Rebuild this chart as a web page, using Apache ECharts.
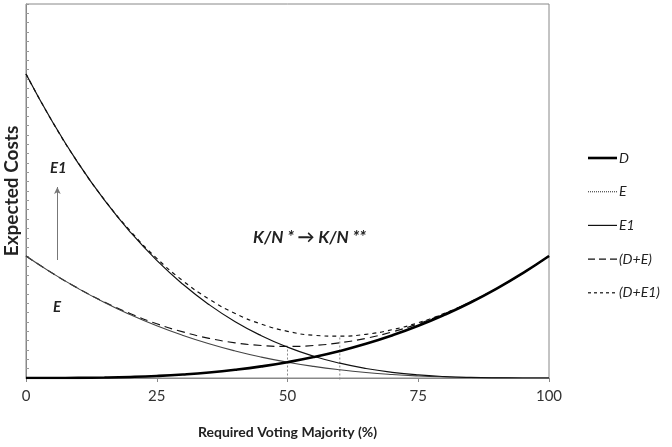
<!DOCTYPE html>
<html>
<head>
<meta charset="utf-8">
<script src="https://cdn.jsdelivr.net/npm/echarts@6/dist/echarts.min.js"></script>
<style>html,body{margin:0;padding:0;background:#fff}#c{width:672px;height:447px}</style>
</head>
<body>
<div id="c"></div>
<script>
// Required voting majority (%)
const majority = [0,5,10,15,20,25,30,35,40,45,50,55,60,65,70,75,80,85,90,95,100];
// Expected costs (arbitrary units)
const D  = [0,0.02,0.14,0.45,1.06,2.04,3.5,5.5,8.2,11.6,15.8,20.9,27.0,34.2,42.6,52.2,63.2,75.5,89.4,104.9,122];
const E  = [122,104.9,89.4,75.5,63.2,52.2,42.6,34.2,27.0,20.9,15.8,11.6,8.2,5.5,3.5,2.04,1.06,0.45,0.14,0.02,0];
const E1 = [304,256.7,214.7,177.8,145.6,117.6,93.7,73.4,56.3,42.3,30.9,21.8,14.8,9.5,5.7,3.1,1.5,0.58,0.15,0.02,0];
const xTicks = [0,25,50,75,100];
const seriesNames = ['D','E','E1','(D+E)','(D+E1)'];
const optimumDE = 50;   // K/N *
const optimumDE1 = 60;  // K/N **
const arrowFrom = [6,118], arrowTo = [6,191];

const DE  = D.map((v,i)=>+(v+E[i]).toFixed(2));
const DE1 = D.map((v,i)=>+(v+E1[i]).toFixed(2));
const pair = (arr)=>majority.map((x,i)=>[x,arr[i]]);
const idx50 = majority.indexOf(optimumDE), idx60 = majority.indexOf(optimumDE1);

const FONT = 'Lato, "Open Sans", sans-serif';
const styles = [
  {color:'#000',width:2.6,type:'solid'},
  {color:'#444',width:1.1,type:'solid'},
  {color:'#111',width:1.2,type:'solid'},
  {color:'#111',width:1.2,type:[8,5]},
  {color:'#111',width:1.2,type:[4,4]}
];
const legendStyles = [
  {stroke:'#000',lineWidth:2.6},
  {stroke:'#555',lineWidth:1.3,lineDash:[1,1]},
  {stroke:'#111',lineWidth:1.2},
  {stroke:'#111',lineWidth:1.2,lineDash:[7,4]},
  {stroke:'#111',lineWidth:1.2,lineDash:[3,3]}
];
const legendGraphics = [];
seriesNames.forEach((n,i)=>{
  const y = 158 + i*33.7;
  legendGraphics.push({type:'line',shape:{x1:588,y1:y,x2:617,y2:y},style:legendStyles[i],silent:true});
  legendGraphics.push({type:'text',x:619,y:y,style:{text:n,font:'italic 14px '+FONT,fill:'#222',verticalAlign:'middle'},silent:true});
});

const chart = echarts.init(document.getElementById('c'));
const dataSeries = seriesNames.map((n,i)=>({
  name:n,type:'line',data:pair([D,E,E1,DE,DE1][i]),smooth:true,showSymbol:false,
  lineStyle:styles[i],itemStyle:{color:styles[i].color},z:[5,4,4,3,3][i]
}));
const guide = (x,top)=>({
  name:'guide'+x,type:'line',data:[[x,-1.5],[x,top]],showSymbol:false,clip:false,silent:true,z:2,
  lineStyle:{color:'#888',width:1,type:[2,2]}
});
dataSeries.push(guide(optimumDE,DE[idx50]));
dataSeries.push(guide(optimumDE1,DE1[idx60]));
dataSeries[0].markLine = {
  silent:true,symbol:['none','arrow'],symbolSize:[5,7],label:{show:false},animation:false,
  lineStyle:{color:'#777',width:1,type:'solid'},
  data:[[{coord:arrowFrom},{coord:arrowTo}]]
};
chart.setOption({
  animation:false,
  backgroundColor:'#fff',
  textStyle:{fontFamily:FONT},
  grid:{left:26,top:4,right:123,bottom:69,containLabel:false,outerBoundsMode:'none'},
  xAxis:{
    type:'value', min:0, max:100, interval:25,
    axisLine:{show:true,lineStyle:{color:'#888',width:1}},
    axisTick:{show:true,length:4,lineStyle:{color:'#888'}},
    axisLabel:{fontSize:15,color:'#333',margin:11,fontFamily:FONT,formatter:(v)=>xTicks.includes(v)?String(v):''},
    splitLine:{show:false},
    name:'Required Voting Majority (%)', nameLocation:'middle', nameGap:47,
    nameTextStyle:{fontSize:14,fontWeight:'bold',color:'#222',fontFamily:FONT}
  },
  yAxis:{
    type:'value', min:0, max:374, interval:9.35,
    axisLine:{show:true,lineStyle:{color:'#888'}},
    axisTick:{show:true,inside:true,length:3,lineStyle:{color:'#999'}},
    axisLabel:{show:false},
    splitLine:{show:false},
    name:'Expected Costs', nameLocation:'middle', nameGap:5, nameRotate:90,
    nameTextStyle:{fontSize:19,fontWeight:'bold',color:'#222',fontFamily:FONT}
  },
  graphic:[
    {type:'rect',shape:{x:26,y:4,width:523,height:374},style:{fill:'none',stroke:'#888',lineWidth:1},silent:true},
    {type:'text',x:50,y:168,style:{text:'E1',font:'italic bold 15px '+FONT,fill:'#222',verticalAlign:'middle'}},
    {type:'text',x:53,y:307,style:{text:'E',font:'italic bold 15px '+FONT,fill:'#222',verticalAlign:'middle'}},
    {type:'text',x:253,y:238,style:{text:'K/N * \u2192 K/N **',font:'italic bold 17px '+FONT,fill:'#222',verticalAlign:'middle'}}
  ].concat(legendGraphics),
  series:dataSeries
});
</script>
</body>
</html>
